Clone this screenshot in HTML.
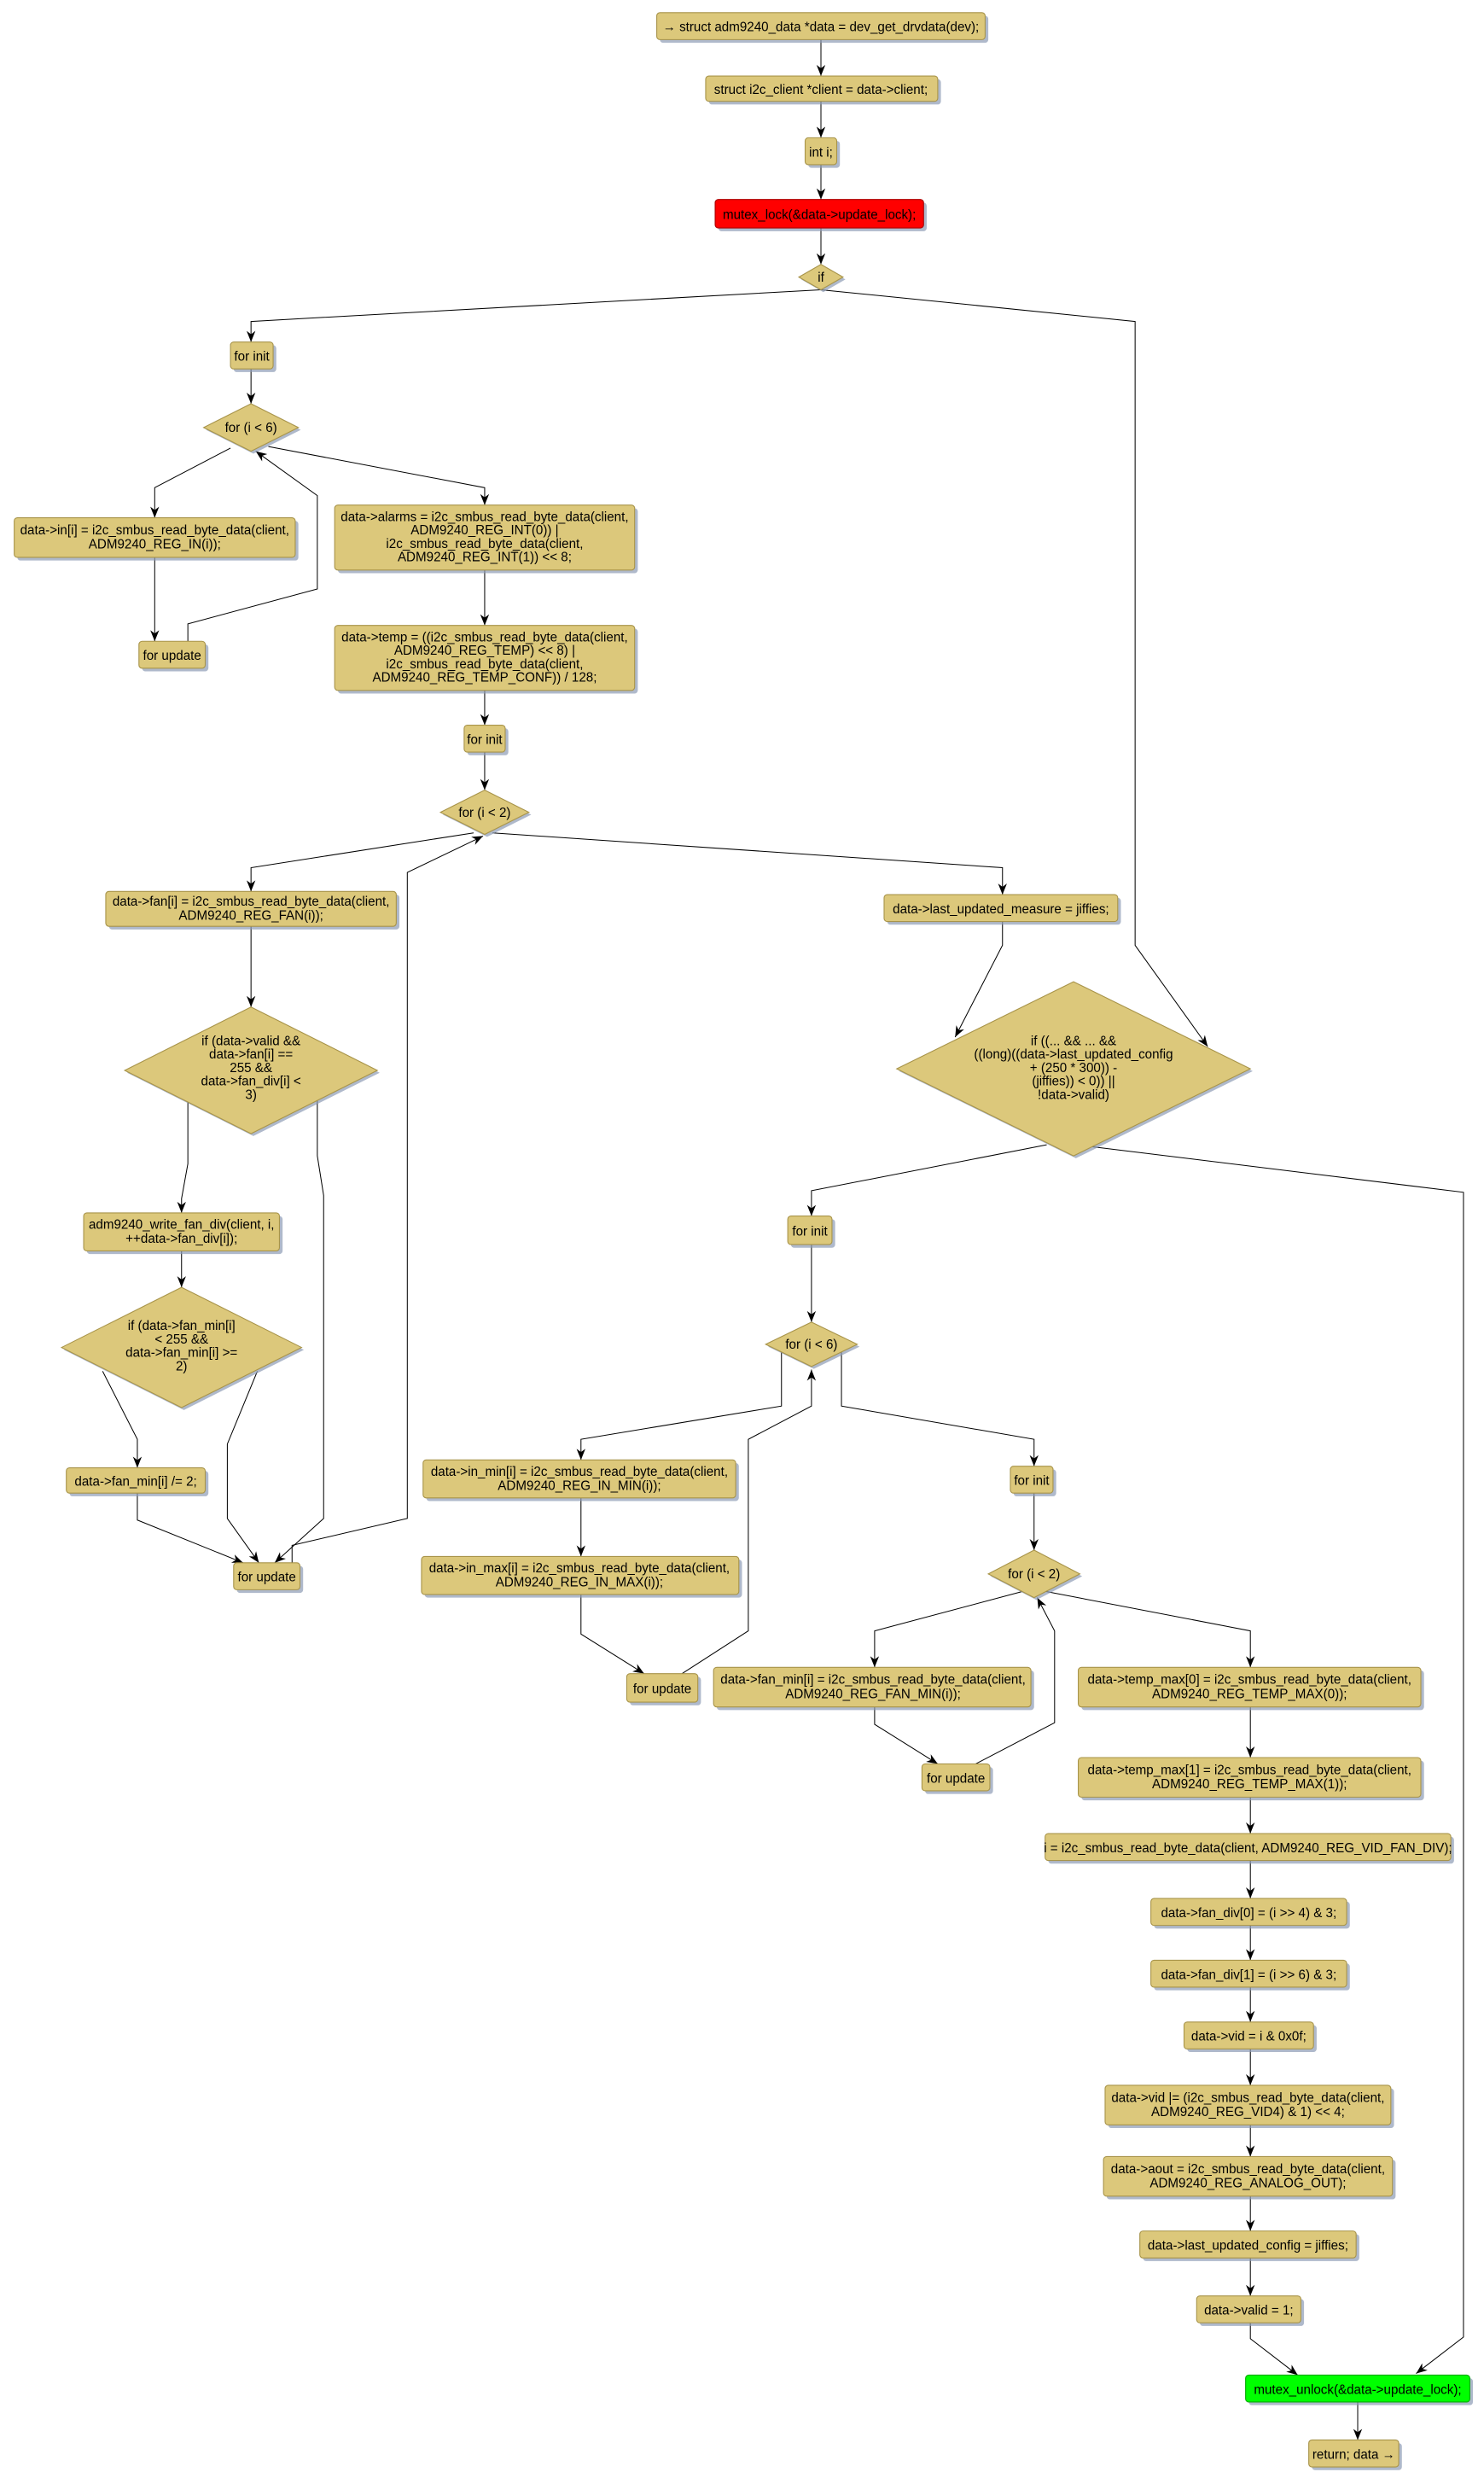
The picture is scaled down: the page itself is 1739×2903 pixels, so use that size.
<!DOCTYPE html>
<html><head><meta charset="utf-8">
<style>
html,body{margin:0;padding:0;background:#fff;}
svg{display:block;}
text{font-family:"Liberation Sans",sans-serif;font-size:8.2px;fill:#000;text-anchor:middle;}
.b{fill:#dcc87b;stroke:#a8944a;stroke-width:0.6;}
.s{fill:#8d9bb5;opacity:0.7;}
.e{fill:none;stroke:#000;stroke-width:0.55;}
</style></head><body>
<svg width="1739" height="2903" viewBox="0 0 940 1565" preserveAspectRatio="none" xmlns="http://www.w3.org/2000/svg">
<defs>
<marker id="a" viewBox="0 0 10 10" refX="10" refY="5" markerWidth="7" markerHeight="7" markerUnits="userSpaceOnUse" orient="auto">
<path d="M0,1 L10,5 L0,9 L3,5 z" fill="#000"/></marker>
</defs>

<g class="e" marker-end="url(#a)">
<path d="M520,25 V48"/>
<path d="M520,64 V87"/>
<path d="M520,104 V126"/>
<path d="M520,144 V167"/>
<path d="M520,183 L159,203 V216"/>
<path d="M520,183 L719,203 V597 L765,661"/>
<path d="M159,233 V255"/>
<path d="M146,283 L98,308 V327"/>
<path d="M170,282 L307,308 V319"/>
<path d="M98,352 V405"/>
<path d="M119,405 V394 L201,372 V313 L162,285"/>
<path d="M307,360 V395"/>
<path d="M307,436 V458"/>
<path d="M307,475 V499"/>
<path d="M300,526 L159,548 V563"/>
<path d="M312,526 L635,548 V565"/>
<path d="M159,585 V636"/>
<path d="M119,695 V735 L115,757 V766"/>
<path d="M201,695 V730 L205,755 V959 L174,987"/>
<path d="M115,790 V813"/>
<path d="M65,866 L87,909 V927"/>
<path d="M163,866 L144,912 V959 L164,987"/>
<path d="M87,943 V960 L154,987"/>
<path d="M185,987 V976 L258,959 V551 L306,528"/>
<path d="M635,582 V597 L605,655"/>
<path d="M663,723 L514,752 V768"/>
<path d="M690,724 L927,753 V1476 L897,1499"/>
<path d="M514,786 V835"/>
<path d="M495,854 V888 L368,909 V922"/>
<path d="M533,854 V888 L655,909 V926"/>
<path d="M432,1057 L474,1030 V909 L514,888 V865"/>
<path d="M368,946 V983"/>
<path d="M368,1007 V1032 L408,1057"/>
<path d="M655,943 V979"/>
<path d="M648,1005 L554,1030 V1053"/>
<path d="M662,1005 L792,1030 V1053"/>
<path d="M618,1114 L668,1088 V1030 L657,1009"/>
<path d="M554,1078 V1089 L594,1114"/>
<path d="M792,1078 V1110"/>
<path d="M792,1135 V1158"/>
<path d="M792,1175 V1199"/>
<path d="M792,1216 V1238"/>
<path d="M792,1255 V1277"/>
<path d="M792,1294 V1317"/>
<path d="M792,1342 V1362"/>
<path d="M792,1387 V1409"/>
<path d="M792,1426 V1450"/>
<path d="M792,1467 V1477 L822,1500"/>
<path d="M860,1517 V1541"/>
</g>

<g>
<rect class="s" x="418" y="10" width="208" height="17" rx="2"/><rect class="b" x="416" y="8" width="208" height="17" rx="2"/>
<text x="520" y="19.8">→ struct adm9240_data *data = dev_get_drvdata(dev);</text>

<rect class="s" x="449" y="50" width="147" height="16" rx="2"/><rect class="b" x="447" y="48" width="147" height="16" rx="2"/>
<text x="520" y="59.3">struct i2c_client *client = data-&gt;client;</text>

<rect class="s" x="512" y="89" width="20" height="17" rx="2"/><rect class="b" x="510" y="87" width="20" height="17" rx="2"/>
<text x="520" y="98.8">int i;</text>

<rect class="s" x="455" y="128" width="132" height="18" rx="2"/><rect x="453" y="126" width="132" height="18" rx="2" fill="#ff0000" stroke="#a00" stroke-width="0.6"/>
<text x="519" y="138.3">mutex_lock(&amp;data-&gt;update_lock);</text>

<polygon class="s" points="521.5,168.5 535.5,176.5 521.5,184.5 507.5,176.5"/>
<polygon class="b" points="520,167 534,175 520,183 506,175"/>
<text x="520" y="177.8">if</text>

<rect class="s" x="148" y="218" width="27" height="17" rx="2"/><rect class="b" x="146" y="216" width="27" height="17" rx="2"/>
<text x="159.5" y="227.8">for init</text>

<polygon class="s" points="160.5,256.5 190.5,271.5 160.5,286.5 130.5,271.5"/>
<polygon class="b" points="159,255 189,270 159,285 129,270"/>
<text x="159" y="272.8">for (i &lt; 6)</text>

<rect class="s" x="11" y="329" width="178" height="25" rx="2"/><rect class="b" x="9" y="327" width="178" height="25" rx="2"/>
<text x="98" y="337.5">data-&gt;in[i] = i2c_smbus_read_byte_data(client,</text>
<text x="98" y="346.5">ADM9240_REG_IN(i));</text>

<rect class="s" x="90" y="407" width="42" height="17" rx="2"/><rect class="b" x="88" y="405" width="42" height="17" rx="2"/>
<text x="109" y="416.8">for update</text>

<rect class="s" x="214" y="321" width="190" height="41" rx="2"/><rect class="b" x="212" y="319" width="190" height="41" rx="2"/>
<text x="307" y="329">data-&gt;alarms = i2c_smbus_read_byte_data(client,</text>
<text x="307" y="337.5">ADM9240_REG_INT(0)) |</text>
<text x="307" y="346">i2c_smbus_read_byte_data(client,</text>
<text x="307" y="354.5">ADM9240_REG_INT(1)) &lt;&lt; 8;</text>

<rect class="s" x="214" y="397" width="190" height="41" rx="2"/><rect class="b" x="212" y="395" width="190" height="41" rx="2"/>
<text x="307" y="405">data-&gt;temp = ((i2c_smbus_read_byte_data(client,</text>
<text x="307" y="413.5">ADM9240_REG_TEMP) &lt;&lt; 8) |</text>
<text x="307" y="422">i2c_smbus_read_byte_data(client,</text>
<text x="307" y="430.5">ADM9240_REG_TEMP_CONF)) / 128;</text>

<rect class="s" x="296" y="460" width="26" height="17" rx="2"/><rect class="b" x="294" y="458" width="26" height="17" rx="2"/>
<text x="307" y="469.8">for init</text>

<polygon class="s" points="308.5,500.5 336.5,514.5 308.5,528.5 280.5,514.5"/>
<polygon class="b" points="307,499 335,513 307,527 279,513"/>
<text x="307" y="515.8">for (i &lt; 2)</text>

<rect class="s" x="69" y="565" width="184" height="22" rx="2"/><rect class="b" x="67" y="563" width="184" height="22" rx="2"/>
<text x="159" y="572">data-&gt;fan[i] = i2c_smbus_read_byte_data(client,</text>
<text x="159" y="581">ADM9240_REG_FAN(i));</text>

<polygon class="s" points="160.5,637.5 240.5,677.5 160.5,717.5 80.5,677.5"/>
<polygon class="b" points="159,636 239,676 159,716 79,676"/>
<text x="159" y="660">if (data-&gt;valid &amp;&amp;</text>
<text x="159" y="668.5">data-&gt;fan[i] ==</text>
<text x="159" y="677">255 &amp;&amp;</text>
<text x="159" y="685.5">data-&gt;fan_div[i] &lt;</text>
<text x="159" y="694">3)</text>

<rect class="s" x="55" y="768" width="124" height="24" rx="2"/><rect class="b" x="53" y="766" width="124" height="24" rx="2"/>
<text x="115" y="776">adm9240_write_fan_div(client, i,</text>
<text x="115" y="785">++data-&gt;fan_div[i]);</text>

<polygon class="s" points="116.5,814.5 192.5,852.5 116.5,890.5 40.5,852.5"/>
<polygon class="b" points="115,813 191,851 115,889 39,851"/>
<text x="115" y="840">if (data-&gt;fan_min[i]</text>
<text x="115" y="848.5">&lt; 255 &amp;&amp;</text>
<text x="115" y="857">data-&gt;fan_min[i] &gt;=</text>
<text x="115" y="865.5">2)</text>

<rect class="s" x="44" y="929" width="88" height="16" rx="2"/><rect class="b" x="42" y="927" width="88" height="16" rx="2"/>
<text x="86" y="938.3">data-&gt;fan_min[i] /= 2;</text>

<rect class="s" x="150" y="989" width="42" height="17" rx="2"/><rect class="b" x="148" y="987" width="42" height="17" rx="2"/>
<text x="169" y="998.8">for update</text>

<rect class="s" x="562" y="567" width="148" height="17" rx="2"/><rect class="b" x="560" y="565" width="148" height="17" rx="2"/>
<text x="634" y="576.8">data-&gt;last_updated_measure = jiffies;</text>

<polygon class="s" points="681.5,621.5 793.5,676.5 681.5,731.5 569.5,676.5"/>
<polygon class="b" points="680,620 792,675 680,730 568,675"/>
<text x="680" y="660">if ((... &amp;&amp; ... &amp;&amp;</text>
<text x="680" y="668.5">((long)((data-&gt;last_updated_config</text>
<text x="680" y="677">+ (250 * 300)) -</text>
<text x="680" y="685.5">(jiffies)) &lt; 0)) ||</text>
<text x="680" y="694">!data-&gt;valid)</text>

<rect class="s" x="501" y="770" width="28" height="18" rx="2"/><rect class="b" x="499" y="768" width="28" height="18" rx="2"/>
<text x="513" y="780.3">for init</text>

<polygon class="s" points="515.5,836.5 544.5,850.5 515.5,864.5 486.5,850.5"/>
<polygon class="b" points="514,835 543,849 514,863 485,849"/>
<text x="514" y="851.8">for (i &lt; 6)</text>

<rect class="s" x="270" y="924" width="198" height="24" rx="2"/><rect class="b" x="268" y="922" width="198" height="24" rx="2"/>
<text x="367" y="932">data-&gt;in_min[i] = i2c_smbus_read_byte_data(client,</text>
<text x="367" y="941">ADM9240_REG_IN_MIN(i));</text>

<rect class="s" x="269" y="985" width="201" height="24" rx="2"/><rect class="b" x="267" y="983" width="201" height="24" rx="2"/>
<text x="367" y="993">data-&gt;in_max[i] = i2c_smbus_read_byte_data(client,</text>
<text x="367" y="1002">ADM9240_REG_IN_MAX(i));</text>

<rect class="s" x="399" y="1059" width="45" height="18" rx="2"/><rect class="b" x="397" y="1057" width="45" height="18" rx="2"/>
<text x="419.5" y="1069.3">for update</text>

<rect class="s" x="642" y="928" width="27" height="17" rx="2"/><rect class="b" x="640" y="926" width="27" height="17" rx="2"/>
<text x="653.5" y="937.8">for init</text>

<polygon class="s" points="656.5,980.5 685.5,995.5 656.5,1010.5 627.5,995.5"/>
<polygon class="b" points="655,979 684,994 655,1009 626,994"/>
<text x="655" y="996.8">for (i &lt; 2)</text>

<rect class="s" x="454" y="1055" width="201" height="25" rx="2"/><rect class="b" x="452" y="1053" width="201" height="25" rx="2"/>
<text x="553" y="1063.5">data-&gt;fan_min[i] = i2c_smbus_read_byte_data(client,</text>
<text x="553" y="1072.5">ADM9240_REG_FAN_MIN(i));</text>

<rect class="s" x="586" y="1116" width="43" height="17" rx="2"/><rect class="b" x="584" y="1114" width="43" height="17" rx="2"/>
<text x="605.5" y="1125.8">for update</text>

<rect class="s" x="685" y="1055" width="217" height="25" rx="2"/><rect class="b" x="683" y="1053" width="217" height="25" rx="2"/>
<text x="791.5" y="1063.5">data-&gt;temp_max[0] = i2c_smbus_read_byte_data(client,</text>
<text x="791.5" y="1072.5">ADM9240_REG_TEMP_MAX(0));</text>

<rect class="s" x="685" y="1112" width="217" height="25" rx="2"/><rect class="b" x="683" y="1110" width="217" height="25" rx="2"/>
<text x="791.5" y="1120.5">data-&gt;temp_max[1] = i2c_smbus_read_byte_data(client,</text>
<text x="791.5" y="1129.5">ADM9240_REG_TEMP_MAX(1));</text>

<rect class="s" x="664" y="1160" width="257" height="17" rx="2"/><rect class="b" x="662" y="1158" width="257" height="17" rx="2"/>
<text x="790.5" y="1169.8">i = i2c_smbus_read_byte_data(client, ADM9240_REG_VID_FAN_DIV);</text>

<rect class="s" x="731" y="1201" width="124" height="17" rx="2"/><rect class="b" x="729" y="1199" width="124" height="17" rx="2"/>
<text x="791" y="1210.8">data-&gt;fan_div[0] = (i &gt;&gt; 4) &amp; 3;</text>

<rect class="s" x="731" y="1240" width="124" height="17" rx="2"/><rect class="b" x="729" y="1238" width="124" height="17" rx="2"/>
<text x="791" y="1249.8">data-&gt;fan_div[1] = (i &gt;&gt; 6) &amp; 3;</text>

<rect class="s" x="752" y="1279" width="82" height="17" rx="2"/><rect class="b" x="750" y="1277" width="82" height="17" rx="2"/>
<text x="791" y="1288.8">data-&gt;vid = i &amp; 0x0f;</text>

<rect class="s" x="702" y="1319" width="181" height="25" rx="2"/><rect class="b" x="700" y="1317" width="181" height="25" rx="2"/>
<text x="790.5" y="1327.5">data-&gt;vid |= (i2c_smbus_read_byte_data(client,</text>
<text x="790.5" y="1336.5">ADM9240_REG_VID4) &amp; 1) &lt;&lt; 4;</text>

<rect class="s" x="701" y="1364" width="183" height="25" rx="2"/><rect class="b" x="699" y="1362" width="183" height="25" rx="2"/>
<text x="790.5" y="1372.5">data-&gt;aout = i2c_smbus_read_byte_data(client,</text>
<text x="790.5" y="1381.5">ADM9240_REG_ANALOG_OUT);</text>

<rect class="s" x="724" y="1411" width="137" height="17" rx="2"/><rect class="b" x="722" y="1409" width="137" height="17" rx="2"/>
<text x="790.5" y="1420.8">data-&gt;last_updated_config = jiffies;</text>

<rect class="s" x="760" y="1452" width="66" height="17" rx="2"/><rect class="b" x="758" y="1450" width="66" height="17" rx="2"/>
<text x="791" y="1461.8">data-&gt;valid = 1;</text>

<rect class="s" x="791" y="1502" width="142" height="17" rx="2"/><rect x="789" y="1500" width="142" height="17" rx="2" fill="#00ff00" stroke="#0a0" stroke-width="0.6"/>
<text x="860" y="1511.8">mutex_unlock(&amp;data-&gt;update_lock);</text>

<rect class="s" x="831" y="1543" width="57" height="17" rx="2"/><rect class="b" x="829" y="1541" width="57" height="17" rx="2"/>
<text x="857.5" y="1552.8">return; data →</text>
</g>
</svg>
</body></html>
